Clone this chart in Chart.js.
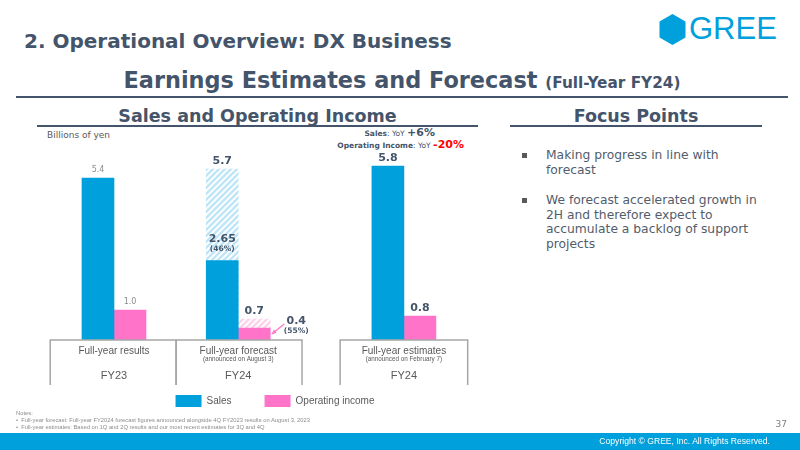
<!DOCTYPE html>
<html>
<head>
<meta charset="utf-8">
<script src="https://cdn.jsdelivr.net/npm/chart.js@4.4.1/dist/chart.umd.min.js"></script>
<style>
  body { margin: 0; width: 800px; height: 450px; position: relative; overflow: hidden; background: #fff; font-family: "DejaVu Sans", sans-serif; color: #44546a; }
  .abs { position: absolute; white-space: nowrap; }
  .title { left: 24px; top: 29px; font-size: 20px; font-weight: bold; line-height: 24px; }
  .subtitle { left: 0; width: 804px; text-align: center; top: 66px; font-size: 22.4px; font-weight: bold; line-height: 28px; }
  .subtitle small { font-size: 15.3px; }
  .rule { position: absolute; background: #44546a; height: 1.5px; }
  .section { font-size: 17.5px; font-weight: bold; line-height: 20px; text-align: center; }
  .unit { left: 47px; top: 130px; font-size: 9px; color: #595959; }
  .yoy { font-size: 7.5px; color: #44546a; text-align: right; }
  .yoy b.big { font-size: 11px; }
  .focus { left: 546px; font-size: 12.3px; line-height: 14.5px; color: #525d6c; white-space: normal; width: 214px; }
  .sq { position: absolute; width: 5px; height: 5px; background: #595959; }
  .notes { left: 16px; font-size: 5.8px; color: #8c8c8c; font-family: "Liberation Sans", sans-serif; }
  .footer { position: absolute; left: 0; top: 433px; width: 800px; height: 17px; background: #00a0dc; }
  .copy { right: 30px; top: 436px; font-size: 8.6px; color: #fff; font-family: "Liberation Sans", sans-serif; }
  .page { right: 13px; top: 419px; font-size: 9px; color: #7f7f7f; }
  .logo { left: 689px; top: 12px; font-size: 31px; color: #00a0dc; font-family: "Liberation Sans", sans-serif; line-height: 34px; }
  #chartBox { position: absolute; left: 30px; top: 130px; width: 480px; height: 287px; }
</style>
</head>
<body>
<div class="abs title">2. Operational Overview: DX Business</div>
<svg class="abs" style="left:659px;top:14px" width="27" height="31"><polygon points="13.5,0 26.5,7.5 26.5,23.5 13.5,31 0.5,23.5 0.5,7.5" fill="#00a0dc"/></svg>
<div class="abs logo">GREE</div>
<div class="abs subtitle">Earnings Estimates and Forecast <small>(Full-Year FY24)</small></div>
<div class="rule" style="left:16px;top:96px;width:772px"></div>

<div class="abs section" style="left:37px;width:441px;top:106px">Sales and Operating Income</div>
<div class="rule" style="left:37px;top:125px;width:441px"></div>
<div class="abs section" style="left:510px;width:252px;top:106px">Focus Points</div>
<div class="rule" style="left:510px;top:125px;width:252px"></div>

<div class="abs unit">Billions of yen</div>
<div class="abs yoy" style="right:365px;top:126px"><b>Sales</b>: YoY <b class="big">+6%</b></div>
<div class="abs yoy" style="right:336px;top:138px"><b>Operating Income</b>: YoY <b class="big" style="color:#ff0000">-20%</b></div>

<div class="sq" style="left:522px;top:153px"></div>
<div class="abs focus" style="top:148px">Making progress in line with forecast</div>
<div class="sq" style="left:522px;top:198px"></div>
<div class="abs focus" style="top:193px">We forecast accelerated growth in 2H and therefore expect to accumulate a backlog of support projects</div>

<div id="chartBox"><canvas id="salesChart" width="480" height="287"></canvas></div>

<div class="abs notes" style="top:410px">Notes:</div>
<div class="abs notes" style="top:417px">&bull;&nbsp;&nbsp;Full-year forecast: Full-year FY2024 forecast figures announced alongside 4Q FY2023 results on August 3, 2023</div>
<div class="abs notes" style="top:424px">&bull;&nbsp;&nbsp;Full-year estimates: Based on 1Q and 2Q results and our most recent estimates for 3Q and 4Q</div>
<div class="abs page">37</div>
<div class="footer"></div>
<div class="abs copy">Copyright &copy; GREE, Inc. All Rights Reserved.</div>

<script>
// Chart values (billions of yen)
const categories = ['Full-year results', 'Full-year forecast', 'Full-year estimates'];
const categoryNotes = ['', '(announced on August 3)', '(announced on February 7)'];
const fiscalYears = ['FY23', 'FY24', 'FY24'];
const salesValues = [5.4, 5.7, 5.8];
const opIncomeValues = [1.0, 0.7, 0.8];
// 1H results shown against the full-year forecast
const salesProgress = [null, 2.65, null];
const opIncomeProgress = [null, 0.4, null];
const salesProgressPct = [null, 46, null];
const opIncomeProgressPct = [null, 55, null];

// layout: where each category group sits on the x scale (the slide gaps are uneven)
const slotPos = [0, 3, 7];
const boxHalf = 1.54;

const BLUE = '#00a0dc';
const PINK = '#ff73c8';
const DARK = '#44546a';

// small tile with diagonal stripes, used as the fill of forecast bars
function hatchTile(color) {
    const s = 6;
    const c = document.createElement('canvas');
    c.width = s; c.height = s;
    const g = c.getContext('2d');
    g.fillStyle = '#fff';
    g.fillRect(0, 0, s, s);
    g.strokeStyle = color;
    g.lineWidth = 2.4;
    g.beginPath();
    g.moveTo(-1, s + 1); g.lineTo(s + 1, -1);
    g.moveTo(-1, 1); g.lineTo(1, -1);
    g.moveTo(s - 1, s + 1); g.lineTo(s + 1, s - 1);
    g.stroke();
    return c;
}

const toPoints = arr => arr.map((v, i) => ({ x: slotPos[i], y: v }));

// solid bars: the progress figure where there is one, otherwise the full-year value
const salesSolid = salesValues.map((v, i) => salesProgress[i] !== null ? salesProgress[i] : v);
const opSolid = opIncomeValues.map((v, i) => opIncomeProgress[i] !== null ? opIncomeProgress[i] : v);
const salesHatched = salesValues.map((v, i) => salesProgress[i] !== null ? v : null);
const opHatched = opIncomeValues.map((v, i) => opIncomeProgress[i] !== null ? v : null);

// draws value labels, the category boxes and the small arrow
const slideMarks = {
    id: 'slideMarks',
    afterDatasetsDraw(chart) {
        const { ctx, scales: { x, y } } = chart;
        const base = y.getPixelForValue(0);
        ctx.save();

        // category boxes under the bars
        const edges = slotPos.map((p, i) => {
            let l = p - boxHalf, r = p + boxHalf;
            if (i > 0 && p - slotPos[i - 1] < 2 * boxHalf + 0.5) l = (p + slotPos[i - 1]) / 2;
            if (i < slotPos.length - 1 && slotPos[i + 1] - p < 2 * boxHalf + 0.5) r = (p + slotPos[i + 1]) / 2;
            return [x.getPixelForValue(l), x.getPixelForValue(r)];
        });
        ctx.strokeStyle = '#a6a6a6';
        ctx.lineWidth = 1.5;
        edges.forEach(([l, r]) => {
            ctx.beginPath();
            ctx.moveTo(l, base + 45); ctx.lineTo(l, base); ctx.lineTo(r, base); ctx.lineTo(r, base + 45);
            ctx.stroke();
        });
        ctx.textAlign = 'center';
        ctx.textBaseline = 'middle';
        ctx.fillStyle = '#595959';
        categories.forEach((c, i) => {
            const cx = x.getPixelForValue(slotPos[i]);
            ctx.font = '10px "Liberation Sans"';
            ctx.fillText(c, cx, base + 11);
            if (categoryNotes[i]) {
                ctx.font = '6.3px "Liberation Sans"';
                ctx.fillText(categoryNotes[i], cx, base + 19);
            }
            ctx.font = '11px "Liberation Sans"';
            ctx.fillText(fiscalYears[i], cx, base + 36);
        });

        // value labels
        const topLabel = (el, txt, i) => {
            if (i === 0) {
                ctx.font = '8px "DejaVu Sans"';
                ctx.fillStyle = '#8c8c8c';
            } else {
                ctx.font = 'bold 11px "DejaVu Sans"';
                ctx.fillStyle = DARK;
            }
            ctx.fillText(txt, el.x, el.y - 8);
        };
        const m0 = chart.getDatasetMeta(0), m1 = chart.getDatasetMeta(1);
        const m2 = chart.getDatasetMeta(2), m3 = chart.getDatasetMeta(3);
        categories.forEach((c, i) => {
            if (salesProgress[i] === null) topLabel(m0.data[i], salesValues[i].toFixed(1), i);
            else {
                topLabel(m2.data[i], salesValues[i].toFixed(1), i);
                const el = m0.data[i];
                ctx.font = 'bold 11px "DejaVu Sans"';
                ctx.fillStyle = DARK;
                ctx.fillText(salesProgress[i].toFixed(2), el.x, el.y - 21);
                ctx.font = 'bold 7.5px "DejaVu Sans"';
                ctx.fillText('(' + salesProgressPct[i] + '%)', el.x, el.y - 11);
            }
            if (opIncomeProgress[i] === null) topLabel(m1.data[i], opIncomeValues[i].toFixed(1), i);
            else {
                topLabel(m3.data[i], opIncomeValues[i].toFixed(1), i);
                const el = m1.data[i];
                const right = el.x + el.width / 2;
                const lx = right + 26, ly = el.y - 7;
                ctx.font = 'bold 11px "DejaVu Sans"';
                ctx.fillStyle = DARK;
                ctx.fillText(opIncomeProgress[i].toFixed(1), lx, ly);
                ctx.font = 'bold 7.5px "DejaVu Sans"';
                ctx.fillText('(' + opIncomeProgressPct[i] + '%)', lx, ly + 10);
                // arrow pointing at the solid part
                const tx = right + 1.5, ty = el.y + 6;
                const sx = right + 14, sy = el.y - 4;
                const a = Math.atan2(ty - sy, tx - sx);
                ctx.strokeStyle = PINK;
                ctx.fillStyle = PINK;
                ctx.lineWidth = 1.2;
                ctx.beginPath(); ctx.moveTo(sx, sy); ctx.lineTo(tx, ty); ctx.stroke();
                ctx.beginPath();
                ctx.moveTo(tx, ty);
                ctx.lineTo(tx - 5 * Math.cos(a - 0.45), ty - 5 * Math.sin(a - 0.45));
                ctx.lineTo(tx - 5 * Math.cos(a + 0.45), ty - 5 * Math.sin(a + 0.45));
                ctx.closePath(); ctx.fill();
            }
        });
        ctx.restore();
    }
};

const ctx = document.getElementById('salesChart').getContext('2d');
const salesHatch = ctx.createPattern(hatchTile('#bfe6f7'), 'repeat');
const opHatch = ctx.createPattern(hatchTile('#fcd3ea'), 'repeat');

new Chart(ctx, {
    type: 'bar',
    data: {
        datasets: [
            { label: 'Sales', data: toPoints(salesSolid), backgroundColor: BLUE, stack: 'sales', barThickness: 32 },
            { label: 'Operating income', data: toPoints(opSolid), backgroundColor: PINK, stack: 'oi', barThickness: 32 },
            { label: 'Sales forecast', data: toPoints(salesHatched), backgroundColor: salesHatch, stack: 'sales', barThickness: 32 },
            { label: 'Operating income forecast', data: toPoints(opHatched), backgroundColor: opHatch, stack: 'oi', barThickness: 32 }
        ]
    },
    options: {
        responsive: false,
        animation: false,
        devicePixelRatio: 1,
        layout: { padding: { left: 20, right: 10, top: 15, bottom: 0 } },
        scales: {
            x: {
                type: 'linear', min: -1.545, max: 9.32, offset: false,
                grid: { display: false }, border: { display: false },
                ticks: { display: false },
                afterFit: s => { s.height = 22; }
            },
            y: { display: false, min: 0, max: 6.5, stacked: false }
        },
        plugins: {
            tooltip: { enabled: false },
            legend: {
                position: 'bottom',
                labels: {
                    filter: item => item.datasetIndex < 2,
                    boxWidth: 26, boxHeight: 12, padding: 33,
                    color: '#595959',
                    font: { family: 'Liberation Sans', size: 10 }
                }
            }
        }
    },
    plugins: [slideMarks]
});
</script>
</body>
</html>
